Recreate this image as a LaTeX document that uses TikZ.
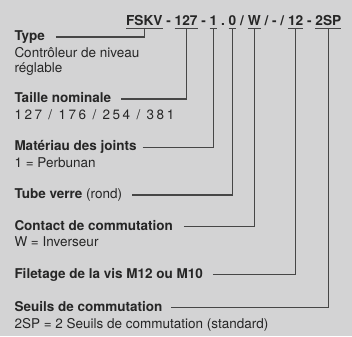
\documentclass[tikz,border=0pt]{standalone}
\usepackage{fontspec}
\setmainfont{TeX Gyre Heros}
\definecolor{bg}{HTML}{D3D3D4}
\definecolor{ink}{HTML}{262626}
\definecolor{wirec}{HTML}{464646}
\begin{document}
\begin{tikzpicture}[x=1pt,y=1pt,
  every node/.style={inner sep=0pt, outer sep=0pt, text=ink},
  seg/.style={anchor=base west, font=\fontsize{13.7}{16}\selectfont\bfseries, text depth=2.6pt},
  sepc/.style={anchor=base west, font=\fontsize{13.7}{16}\selectfont\bfseries, inner xsep=3.8pt},
  head/.style={anchor=base west, font=\fontsize{13.5}{16}\selectfont\bfseries},
  sub/.style={anchor=base west, font=\fontsize{13.5}{16}\selectfont},
  wire/.style={draw=wirec, line width=1.05pt},
  lead/.style={wire},
]
\useasboundingbox (0,0) rectangle (352,-336);
\fill[bg] (0,0) rectangle (352,-336);

% code line
\node[seg] (fskv) at (126,-25.5) {FSKV};
\node[sepc] (d1) at (fskv.base east) {-};
\node[seg] (n127) at (d1.base east) {127};
\node[sepc] (d2) at (n127.base east) {-};
\node[seg] (n1) at (d2.base east) {1};
\node[sepc] (d3) at (n1.base east) {.};
\node[seg] (n0) at (d3.base east) {0};
\node[sepc] (d4) at (n0.base east) {/};
\node[seg] (nw) at (d4.base east) {W};
\node[sepc] (d5) at (nw.base east) {/};
\node[sepc, inner xsep=0pt] (d6) at (d5.base east) {-};
\node[sepc] (d7) at (d6.base east) {/};
\node[seg] (n12) at (d7.base east) {12};
\node[sepc] (d8) at (n12.base east) {-};
\node[seg] (n2sp) at (d8.base east) {2SP};

\foreach \s in {fskv,n127,n1,n0,nw,n12,n2sp}
  \draw[wire] (\s.south west) -- (\s.south east);

% labels
\node[head] (type) at (14.5,-40.7) {Type};
\node[sub] (typeA) at (14.5,-57.7) {Contrôleur de niveau};
\node[sub] (typeB) at (14.5,-72.7) {réglable};
\node[head] (taille) at (14.5,-102.7) {Taille nominale};
\node[sub, font=\fontsize{13.5}{16}\selectfont\addfontfeatures{LetterSpace=19}] (tailleD) at (14.5,-120) {127 / 176 / 254 / 381};
\node[head] (mat) at (14.5,-151) {Matériau des joints};
\node[sub] (matD) at (14.5,-167.3) {1 = Perbunan};
\node[head] (tube) at (14.5,-198.7) {Tube verre \mdseries(rond)};
\node[head] (contact) at (14.5,-230.4) {Contact de commutation};
\node[sub] (contactD) at (14.5,-246.7) {W = Inverseur};
\node[head] (filet) at (14.5,-278) {Filetage de la vis M12 ou M10};
\node[head] (seuils) at (14.5,-311.4) {Seuils de commutation};
\node[sub] (seuilsD) at (14.5,-328) {2SP = 2 Seuils de commutation (standard)};

% leaders
\draw[lead] ([xshift=11pt,yshift=3.7pt]type.base east) -| (fskv.south);
\draw[lead] ([xshift=10pt,yshift=3.7pt]taille.base east) -| (n127.south);
\draw[lead] ([xshift=6pt,yshift=3.7pt]mat.base east) -| (n1.south);
\draw[lead] ([xshift=10pt,yshift=3.7pt]tube.base east) -| (n0.south);
\draw[lead] ([xshift=11pt,yshift=3.7pt]contact.base east) -| (nw.south);
\draw[lead] ([xshift=10pt,yshift=3.7pt]filet.base east) -| (n12.south);
\draw[lead] ([xshift=9pt,yshift=3.7pt]seuils.base east) -| (n2sp.south);
\end{tikzpicture}
\end{document}
